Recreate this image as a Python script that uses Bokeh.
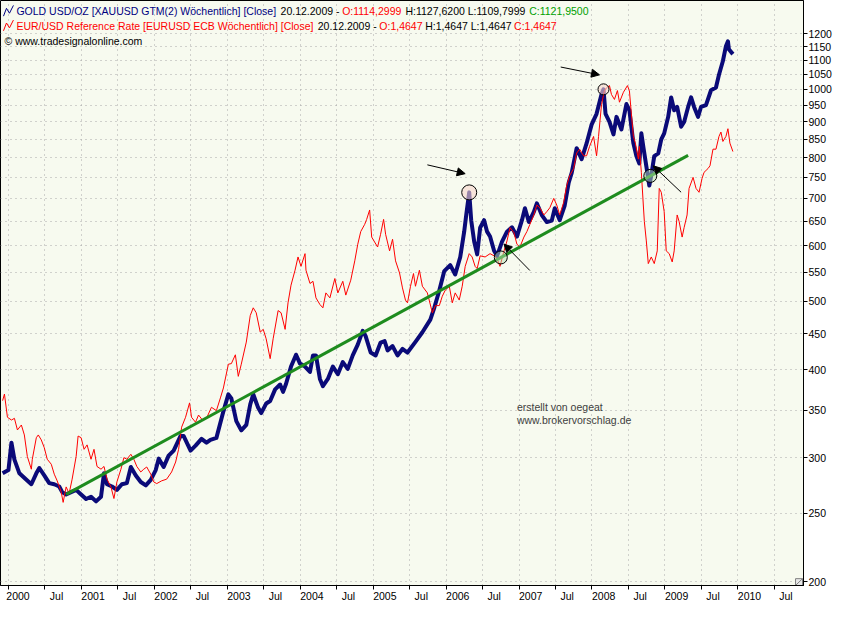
import math
from bokeh.plotting import figure
from bokeh.models import (Range1d, LinearScale, FixedTicker, Arrow,
                          NormalHead, Label, PrintfTickFormatter)
from bokeh.embed import file_html
from bokeh.resources import INLINE

FONT = "Liberation Sans"

# ---------------- data (weekly closes) ----------------
# gold in USD/oz : (decimal year, close)
gold_weekly = [
    (1999.92, 285), (2000.000, 288), (2000.041, 315), (2000.082, 298), (2000.150, 285),
    (2000.246, 279), (2000.314, 275), (2000.382, 285), (2000.423, 290), (2000.491, 283),
    (2000.559, 276), (2000.628, 275), (2000.696, 273), (2000.737, 268), (2000.791, 266),
    (2000.859, 268), (2000.928, 270), (2000.996, 266), (2001.064, 262), (2001.132, 264),
    (2001.201, 260), (2001.269, 264), (2001.310, 285), (2001.351, 275), (2001.419, 273),
    (2001.487, 270), (2001.555, 275), (2001.623, 276), (2001.678, 291), (2001.746, 283),
    (2001.814, 277), (2001.883, 274), (2001.951, 279), (2002.019, 288), (2002.060, 299),
    (2002.128, 291), (2002.196, 302), (2002.265, 307), (2002.360, 322), (2002.401, 322),
    (2002.497, 307), (2002.565, 312), (2002.647, 319), (2002.715, 315), (2002.769, 318),
    (2002.851, 320), (2002.947, 349), (2003.015, 369), (2003.056, 364), (2003.124, 338),
    (2003.192, 328), (2003.261, 334), (2003.315, 357), (2003.356, 369), (2003.424, 353),
    (2003.465, 347), (2003.533, 358), (2003.588, 361), (2003.656, 375), (2003.724, 381),
    (2003.765, 372), (2003.806, 382), (2003.874, 404), (2003.943, 420), (2003.997, 408),
    (2004.066, 404), (2004.134, 397), (2004.175, 419), (2004.216, 419), (2004.270, 388),
    (2004.311, 379), (2004.379, 388), (2004.448, 404), (2004.516, 394), (2004.584, 410),
    (2004.652, 401), (2004.720, 419), (2004.789, 434), (2004.857, 454), (2004.898, 446),
    (2004.966, 423), (2005.034, 419), (2005.102, 437), (2005.157, 439), (2005.198, 426),
    (2005.266, 432), (2005.334, 419), (2005.402, 428), (2005.471, 423), (2005.580, 438),
    (2005.675, 452), (2005.784, 471), (2005.839, 490), (2005.907, 518), (2005.975, 552),
    (2006.057, 563), (2006.125, 546), (2006.194, 578), (2006.248, 628), (2006.276, 663),
    (2006.317, 714), (2006.344, 652), (2006.385, 608), (2006.426, 583), (2006.467, 636),
    (2006.521, 652), (2006.562, 628), (2006.603, 618), (2006.658, 590), (2006.699, 580),
    (2006.767, 608), (2006.835, 628), (2006.903, 637), (2006.971, 618), (2007.040, 652),
    (2007.081, 678), (2007.135, 648), (2007.203, 670), (2007.244, 689), (2007.312, 663),
    (2007.381, 648), (2007.449, 651), (2007.490, 678), (2007.558, 652), (2007.626, 684),
    (2007.681, 737), (2007.722, 761), (2007.790, 825), (2007.858, 796), (2007.926, 838),
    (2007.995, 891), (2008.063, 923), (2008.131, 984), (2008.158, 1000), (2008.186, 923),
    (2008.240, 899), (2008.295, 863), (2008.336, 914), (2008.404, 877), (2008.472, 953),
    (2008.513, 934), (2008.568, 838), (2008.609, 804), (2008.649, 785), (2008.677, 866),
    (2008.704, 829), (2008.745, 778), (2008.786, 730), (2008.813, 755), (2008.854, 804),
    (2008.909, 811), (2008.950, 849), (2008.990, 866), (2009.045, 914), (2009.086, 974),
    (2009.127, 934), (2009.168, 944), (2009.222, 885), (2009.263, 899), (2009.318, 944),
    (2009.359, 974), (2009.400, 944), (2009.454, 914), (2009.495, 944), (2009.563, 950),
    (2009.632, 997), (2009.700, 1006), (2009.741, 1049), (2009.795, 1097), (2009.836, 1151),
    (2009.864, 1170), (2009.877, 1140), (2009.932, 1122),
]

# EUR/USD reference rate : (decimal year, close)
eurusd_weekly = [
    (1999.92, 1.014), (1999.945, 1.026), (1999.986, 0.984), (2000.041, 0.979), (2000.082, 0.982),
    (2000.123, 0.961), (2000.177, 0.970), (2000.218, 0.952), (2000.259, 0.913), (2000.314, 0.890),
    (2000.327, 0.908), (2000.382, 0.947), (2000.409, 0.952), (2000.450, 0.943), (2000.491, 0.929),
    (2000.532, 0.908), (2000.587, 0.899), (2000.628, 0.881), (2000.668, 0.869), (2000.723, 0.849),
    (2000.750, 0.830), (2000.791, 0.858), (2000.832, 0.846), (2000.873, 0.872), (2000.928, 0.913),
    (2000.955, 0.950), (2000.996, 0.947), (2001.037, 0.926), (2001.078, 0.934), (2001.132, 0.908),
    (2001.173, 0.926), (2001.214, 0.895), (2001.269, 0.890), (2001.310, 0.895), (2001.351, 0.872),
    (2001.405, 0.858), (2001.446, 0.837), (2001.487, 0.867), (2001.542, 0.890), (2001.583, 0.911),
    (2001.623, 0.908), (2001.678, 0.917), (2001.719, 0.908), (2001.760, 0.895), (2001.814, 0.885),
    (2001.855, 0.890), (2001.896, 0.894), (2001.951, 0.881), (2001.992, 0.867), (2002.033, 0.864),
    (2002.101, 0.869), (2002.169, 0.872), (2002.237, 0.885), (2002.292, 0.903), (2002.333, 0.926),
    (2002.374, 0.966), (2002.428, 0.984), (2002.483, 1.010), (2002.510, 0.984), (2002.565, 0.975),
    (2002.606, 0.988), (2002.660, 0.979), (2002.715, 0.982), (2002.783, 1.002), (2002.851, 0.996),
    (2002.906, 1.019), (2002.947, 1.037), (2003.015, 1.080), (2003.056, 1.081), (2003.111, 1.097),
    (2003.151, 1.058), (2003.192, 1.080), (2003.261, 1.120), (2003.315, 1.168), (2003.356, 1.182),
    (2003.397, 1.173), (2003.452, 1.138), (2003.493, 1.143), (2003.533, 1.126), (2003.588, 1.090),
    (2003.629, 1.126), (2003.697, 1.177), (2003.738, 1.173), (2003.793, 1.143), (2003.833, 1.191),
    (2003.874, 1.223), (2003.929, 1.250), (2003.970, 1.274), (2004.011, 1.257), (2004.066, 1.280),
    (2004.079, 1.250), (2004.134, 1.226), (2004.175, 1.230), (2004.216, 1.200), (2004.270, 1.188),
    (2004.311, 1.182), (2004.352, 1.209), (2004.407, 1.200), (2004.475, 1.235), (2004.516, 1.209),
    (2004.584, 1.230), (2004.625, 1.205), (2004.693, 1.232), (2004.748, 1.267), (2004.789, 1.297),
    (2004.830, 1.320), (2004.884, 1.333), (2004.911, 1.342), (2004.952, 1.359), (2004.980, 1.310),
    (2005.020, 1.301), (2005.061, 1.292), (2005.102, 1.315), (2005.143, 1.342), (2005.171, 1.315),
    (2005.225, 1.285), (2005.266, 1.306), (2005.307, 1.267), (2005.362, 1.245), (2005.402, 1.218),
    (2005.443, 1.196), (2005.471, 1.191), (2005.512, 1.221), (2005.553, 1.244), (2005.580, 1.221),
    (2005.634, 1.250), (2005.675, 1.221), (2005.743, 1.209), (2005.812, 1.173), (2005.853, 1.186),
    (2005.907, 1.186), (2005.948, 1.203), (2005.989, 1.214), (2006.044, 1.221), (2006.085, 1.191),
    (2006.125, 1.209), (2006.180, 1.196), (2006.221, 1.221), (2006.262, 1.257), (2006.317, 1.280),
    (2006.357, 1.274), (2006.398, 1.257), (2006.426, 1.253), (2006.467, 1.276), (2006.535, 1.274),
    (2006.603, 1.280), (2006.658, 1.276), (2006.699, 1.271), (2006.739, 1.257), (2006.794, 1.285),
    (2006.835, 1.303), (2006.876, 1.327), (2006.930, 1.318), (2006.971, 1.297), (2007.012, 1.292),
    (2007.067, 1.310), (2007.108, 1.320), (2007.149, 1.333), (2007.203, 1.350), (2007.244, 1.368),
    (2007.285, 1.363), (2007.340, 1.350), (2007.381, 1.356), (2007.422, 1.363), (2007.476, 1.380),
    (2007.517, 1.368), (2007.558, 1.350), (2007.613, 1.373), (2007.653, 1.403), (2007.694, 1.421),
    (2007.749, 1.434), (2007.790, 1.462), (2007.831, 1.469), (2007.885, 1.457), (2007.926, 1.457),
    (2007.967, 1.474), (2008.022, 1.492), (2008.063, 1.457), (2008.090, 1.492), (2008.131, 1.550),
    (2008.172, 1.575), (2008.199, 1.580), (2008.240, 1.584), (2008.267, 1.568), (2008.308, 1.559),
    (2008.349, 1.575), (2008.377, 1.554), (2008.431, 1.572), (2008.486, 1.584), (2008.513, 1.575),
    (2008.540, 1.533), (2008.568, 1.492), (2008.595, 1.480), (2008.636, 1.451), (2008.649, 1.474),
    (2008.677, 1.427), (2008.704, 1.368), (2008.718, 1.338), (2008.745, 1.303), (2008.772, 1.262),
    (2008.813, 1.274), (2008.854, 1.262), (2008.895, 1.285), (2008.922, 1.398), (2008.950, 1.391),
    (2008.990, 1.356), (2009.018, 1.285), (2009.059, 1.280), (2009.100, 1.265), (2009.127, 1.285),
    (2009.168, 1.350), (2009.195, 1.338), (2009.236, 1.310), (2009.263, 1.327), (2009.304, 1.350),
    (2009.331, 1.398), (2009.386, 1.418), (2009.427, 1.398), (2009.468, 1.391), (2009.509, 1.416),
    (2009.536, 1.427), (2009.591, 1.434), (2009.618, 1.439), (2009.659, 1.469), (2009.700, 1.469),
    (2009.741, 1.492), (2009.768, 1.500), (2009.795, 1.483), (2009.836, 1.492), (2009.864, 1.506),
    (2009.891, 1.480), (2009.932, 1.4647),
]

# hand-drawn trend line (start, end)
trend_t = [2000.791, 2009.318]
trend_v = [266, 806]
# dates where the trend line is touched (marked with circles)
touch_dates = [2006.75, 2008.80]

x_tick_values = [2000.0, 2000.5, 2001.0, 2001.5, 2002.0, 2002.5, 2003.0, 2003.5, 2004.0, 2004.5,
                 2005.0, 2005.5, 2006.0, 2006.5, 2007.0, 2007.5, 2008.0, 2008.5, 2009.0, 2009.5,
                 2010.0, 2010.5]
x_tick_labels = ["2000", "Jul", "2001", "Jul", "2002", "Jul", "2003", "Jul", "2004", "Jul",
                 "2005", "Jul", "2006", "Jul", "2007", "Jul", "2008", "Jul", "2009", "Jul",
                 "2010", "Jul"]
y_tick_values = [200, 250, 300, 350, 400, 450, 500, 550, 600, 650, 700, 750, 800, 850, 900,
                 950, 1000, 1050, 1100, 1150, 1200]

legend_gold = [("GOLD USD/OZ [XAUUSD GTM(2)  Wöchentlich] [Close]", "#000080"),
               ("20.12.2009 -", "#000000"), ("O:1114,2999", "#FF0000"),
               ("H:1127,6200 L:1109,7999", "#000000"), ("C:1121,9500", "#00A000")]
legend_eur = [("EUR/USD Reference Rate [EURUSD ECB  Wöchentlich] [Close]", "#FF0000"),
              ("20.12.2009 -", "#000000"), ("O:1,4647", "#FF0000"),
              ("H:1,4647 L:1,4647", "#000000"), ("C:1,4647", "#FF0000")]

# ---------------- geometry helpers ----------------
X0, X1 = 1999.891, 2010.900
Y0, Y1 = 197.5, 1337.0
E0, E1 = 0.6796, 1.738


def tx(px):
    return X0 + (px - 1) * (X1 - X0) / 807.0


def vy(py):
    return math.exp(math.log(Y0) + (599 - py) / 598.0 * (math.log(Y1) - math.log(Y0)))


ARIAL = {' ': 278, '.': 278, ',': 278, ':': 278, '-': 333, '[': 278, ']': 278, '(': 333,
         ')': 333, '/': 278, '©': 737,
         'A': 667, 'B': 667, 'C': 722, 'D': 722, 'E': 667, 'F': 611, 'G': 778, 'H': 722,
         'I': 278, 'J': 500, 'K': 667, 'L': 556, 'M': 833, 'N': 722, 'O': 778, 'P': 667,
         'Q': 778, 'R': 722, 'S': 667, 'T': 611, 'U': 722, 'V': 667, 'W': 944, 'X': 667,
         'Y': 667, 'Z': 611,
         'c': 500, 'f': 278, 'i': 222, 'j': 222, 'k': 500, 'l': 222, 'm': 833, 'r': 333,
         's': 500, 't': 278, 'v': 500, 'w': 722, 'x': 500, 'y': 500, 'z': 500}


def tw(s, size=10.5):
    return sum(ARIAL.get(c, 556) for c in s) * size / 1000.0


# ---------------- figure ----------------
p = figure(width=834, height=604, x_range=Range1d(X0, X1), y_range=Range1d(Y0, Y1),
           y_axis_type="log", y_axis_location="right", output_backend="svg",
           toolbar_location=None, min_border_left=0, min_border_top=0,
           min_border_right=0, min_border_bottom=0)
p.extra_y_ranges = {"eur": Range1d(E0, E1)}
p.extra_y_scales = {"eur": LinearScale()}

p.background_fill_color = "#F7FAEF"
p.border_fill_color = "white"
p.outline_line_color = "black"

xt = FixedTicker(ticks=x_tick_values, minor_ticks=[])
yt = FixedTicker(ticks=y_tick_values, minor_ticks=[])

# labels sit just to the right of their tick mark: pad them on the left with
# no-break spaces so that the centred text starts a few px after the tick
NBSP = "\u00a0"
x_over = {}
for k, (v, t) in enumerate(zip(x_tick_values, x_tick_labels)):
    n = 2 if k == 0 else 8
    x_over[v] = NBSP * n + t

xa = p.xaxis[0]
xa.ticker = xt
xa.major_label_overrides = x_over
xa.major_tick_out = 4
xa.major_tick_in = 0
xa.minor_tick_line_color = None
xa.major_label_standoff = 0
xa.axis_label_standoff = 0
xa.major_label_text_font = FONT
xa.major_label_text_font_size = "10.5px"
xa.major_label_text_color = "black"
xa.axis_line_color = "black"

ya = p.yaxis[0]
ya.ticker = yt
ya.formatter = PrintfTickFormatter(format="%d")
ya.major_tick_out = 4
ya.major_tick_in = 0
ya.minor_tick_line_color = None
ya.major_label_standoff = 1
ya.major_label_text_font = FONT
ya.major_label_text_font_size = "10.5px"
ya.major_label_text_color = "black"
ya.axis_line_color = "black"

p.xgrid.ticker = xt
p.ygrid.ticker = yt
for g in (p.xgrid, p.ygrid):
    g.grid_line_color = "#A9A9A9"
    g.grid_line_dash = "1 4"
    g.grid_line_width = 1

# ---------------- series ----------------
g_t = [a for a, b in gold_weekly]
g_v = [b for a, b in gold_weekly]
e_t = [a for a, b in eurusd_weekly]
e_v = [b for a, b in eurusd_weekly]

p.line(g_t, g_v, line_color="#0A0A78", line_width=4, line_join="round")
p.line(e_t, e_v, line_color="#FF0000", line_width=1, y_range_name="eur")
p.line(trend_t, trend_v, line_color="#1E8C1E", line_width=3)

# ---------------- markup ----------------
i1 = max((i for i in range(len(g_t)) if g_t[i] < 2007), key=lambda i: g_v[i])
i2 = max((i for i in range(len(g_t)) if 2008 <= g_t[i] < 2009), key=lambda i: g_v[i])
p.scatter([g_t[i1]], [g_v[i1]], size=15, marker="circle", fill_color="#F6D6CC",
          fill_alpha=0.6, line_color="black", line_width=1)
p.scatter([g_t[i2]], [g_v[i2]], size=11, marker="circle", fill_color="#F6D6CC",
          fill_alpha=0.6, line_color="black", line_width=1)


def trend_at(t):
    f = (t - trend_t[0]) / (trend_t[1] - trend_t[0])
    return math.exp(math.log(trend_v[0]) + f * (math.log(trend_v[1]) - math.log(trend_v[0])))


p.scatter(touch_dates, [trend_at(t) for t in touch_dates], size=13, marker="circle",
          fill_color="#B8E0B0", fill_alpha=0.5, line_color="black", line_width=1)

arrows_px = [((430, 169), (468, 178)), ((564, 69), (603, 77)),
             ((533, 277), (507, 250)), ((685, 197), (657, 170))]
for (sx, sy), (ex, ey) in arrows_px:
    p.add_layout(Arrow(end=NormalHead(size=8, fill_color="black", line_color="black"),
                       x_start=tx(sx), y_start=vy(sy), x_end=tx(ex), y_end=vy(ey),
                       line_color="black", line_width=1))


# legend lines at top-left
def legend_line(segs, x_px, y_px):
    x = x_px
    for text, color in segs:
        p.add_layout(Label(x=tx(x), y=vy(y_px), text=text, text_color=color,
                           text_font=FONT, text_font_size="10.5px",
                           text_baseline="middle", text_align="left"))
        x += tw(text) + tw(" ")


legend_line(legend_gold, 17, 12)
legend_line(legend_eur, 17, 27)
p.add_layout(Label(x=tx(5), y=vy(42), text="© www.tradesignalonline.com", text_color="black",
                   text_font=FONT, text_font_size="10.5px", text_baseline="middle"))

for col, dy in (("#000080", 12), ("#FF0000", 27)):
    p.line([tx(4), tx(7), tx(10), tx(14)], [vy(dy + 5), vy(dy - 3), vy(dy + 2), vy(dy - 6)],
           line_color=col, line_width=1)

p.add_layout(Label(x=tx(520), y=vy(410), text="erstellt von oegeat", text_color="#404040",
                   text_font=FONT, text_font_size="10.5px", text_baseline="top"))
p.add_layout(Label(x=tx(520), y=vy(424), text="www.brokervorschlag.de", text_color="#404040",
                   text_font=FONT, text_font_size="10.5px", text_baseline="top"))

p.add_layout(Label(x=tx(813), y=vy(10), text="$", text_color="black",
                   text_font=FONT, text_font_size="10.5px", text_baseline="middle"))

# size grip at bottom-right corner
p.quad(left=[tx(800)], right=[tx(807)], bottom=[vy(599)], top=[vy(592)],
       fill_color="#E8E8E8", line_color="#808080")
p.line([tx(800), tx(807)], [vy(599), vy(592)], line_color="#808080", line_width=1)

open("out.html", "w").write(file_html(p, INLINE))
